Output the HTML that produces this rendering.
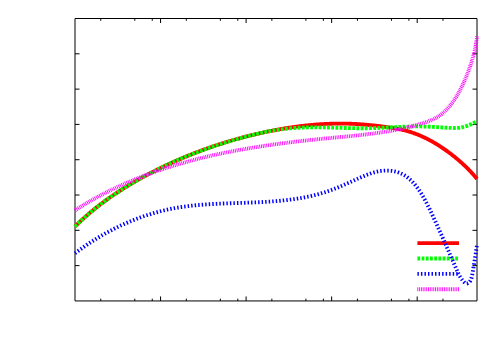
<!DOCTYPE html>
<html><head><meta charset="utf-8"><title>plot</title>
<style>html,body{margin:0;padding:0;background:#fff;font-family:"Liberation Sans",sans-serif;}svg{display:block}</style></head><body>
<svg width="500" height="350" viewBox="0 0 500 350">
<rect width="500" height="350" fill="#fff"/>
<g fill="none" stroke="#000" stroke-width="1">
<path d="M100.75,300.95V298.7M100.75,18.5V20.75M134.80,300.95V298.7M134.80,18.5V20.75M152.26,300.95V298.7M152.26,18.5V20.75M160.55,300.95V296.45M160.55,18.5V23.0M186.30,300.95V298.7M186.30,18.5V20.75M220.35,300.95V298.7M220.35,18.5V20.75M237.81,300.95V298.7M237.81,18.5V20.75M246.10,300.95V296.45M246.10,18.5V23.0M271.85,300.95V298.7M271.85,18.5V20.75M305.90,300.95V298.7M305.90,18.5V20.75M323.36,300.95V298.7M323.36,18.5V20.75M331.65,300.95V296.45M331.65,18.5V23.0M357.41,300.95V298.7M357.41,18.5V20.75M391.45,300.95V298.7M391.45,18.5V20.75M408.91,300.95V298.7M408.91,18.5V20.75M417.20,300.95V296.45M417.20,18.5V23.0M442.96,300.95V298.7M442.96,18.5V20.75M75.0,265.64H79.5M477.0,265.64H472.5M75.0,230.34H79.5M477.0,230.34H472.5M75.0,195.03H79.5M477.0,195.03H472.5M75.0,159.72H79.5M477.0,159.72H472.5M75.0,124.42H79.5M477.0,124.42H472.5M75.0,89.11H79.5M477.0,89.11H472.5M75.0,53.81H79.5M477.0,53.81H472.5"/>
<path d="M75.0,18.5V300.95H477.0V18.5Z"/>
</g>
<g fill="none" stroke-width="3.85" stroke-linejoin="round">
<path d="M417.4,243.1H459.0" stroke="#ff0000"/>
<path d="M75.00,226.50 L75.63,225.87 L76.27,225.25 L76.90,224.62 L77.54,224.00 L78.18,223.38 L78.83,222.77 L79.47,222.15 L80.12,221.54 L80.77,220.94 L81.42,220.33 L82.07,219.73 L82.73,219.13 L83.39,218.53 L84.05,217.93 L84.71,217.34 L85.38,216.75 L86.04,216.16 L86.71,215.57 L87.38,214.99 L88.05,214.41 L88.73,213.83 L89.40,213.25 L90.08,212.68 L90.76,212.11 L91.44,211.54 L92.13,210.97 L92.81,210.40 L93.50,209.84 L94.19,209.28 L94.88,208.72 L95.57,208.17 L96.27,207.61 L96.97,207.06 L97.67,206.51 L98.37,205.97 L99.07,205.42 L99.77,204.88 L100.48,204.34 L101.18,203.80 L101.89,203.27 L102.60,202.74 L103.32,202.21 L104.03,201.68 L104.75,201.15 L105.46,200.63 L106.18,200.10 L106.90,199.58 L107.63,199.07 L108.35,198.55 L109.08,198.04 L109.80,197.52 L110.53,197.02 L111.26,196.51 L111.99,196.00 L112.73,195.50 L113.46,195.00 L114.20,194.50 L114.94,194.00 L115.67,193.51 L116.41,193.02 L117.16,192.53 L117.90,192.04 L118.64,191.55 L119.39,191.07 L120.14,190.58 L120.89,190.10 L121.64,189.62 L122.39,189.15 L123.14,188.67 L123.90,188.20 L124.65,187.73 L125.41,187.26 L126.17,186.79 L126.93,186.33 L127.69,185.86 L128.45,185.40 L129.21,184.94 L129.97,184.49 L130.74,184.03 L131.51,183.58 L132.27,183.12 L133.04,182.67 L133.81,182.23 L134.58,181.78 L135.36,181.34 L136.13,180.89 L136.90,180.45 L137.68,180.01 L138.45,179.57 L139.23,179.14 L140.01,178.71 L140.79,178.27 L141.57,177.84 L142.35,177.41 L143.13,176.99 L143.92,176.56 L144.70,176.14 L145.49,175.72 L146.27,175.30 L147.06,174.88 L147.85,174.46 L148.64,174.05 L149.42,173.63 L150.22,173.22 L151.01,172.81 L151.80,172.40 L152.59,172.00 L153.38,171.59 L154.18,171.19 L154.97,170.79 L155.77,170.39 L156.57,169.99 L157.36,169.59 L158.16,169.20 L158.96,168.80 L159.76,168.41 L160.56,168.02 L161.36,167.63 L162.16,167.24 L162.97,166.86 L163.77,166.47 L164.57,166.09 L165.38,165.71 L166.18,165.33 L166.99,164.95 L167.80,164.57 L168.60,164.20 L169.41,163.83 L170.22,163.46 L171.03,163.09 L171.84,162.72 L172.65,162.35 L173.46,161.99 L174.27,161.62 L175.09,161.26 L175.90,160.90 L176.71,160.54 L177.53,160.18 L178.35,159.83 L179.16,159.47 L179.98,159.12 L180.80,158.77 L181.61,158.42 L182.43,158.08 L183.25,157.73 L184.07,157.39 L184.89,157.04 L185.72,156.70 L186.54,156.36 L187.36,156.03 L188.18,155.69 L189.01,155.36 L189.83,155.02 L190.66,154.69 L191.48,154.36 L192.31,154.04 L193.14,153.71 L193.97,153.38 L194.79,153.06 L195.62,152.74 L196.45,152.42 L197.28,152.10 L198.11,151.79 L198.95,151.47 L199.78,151.16 L200.61,150.85 L201.44,150.54 L202.28,150.23 L203.11,149.92 L203.95,149.62 L204.78,149.31 L205.62,149.01 L206.46,148.71 L207.29,148.41 L208.13,148.12 L208.97,147.82 L209.81,147.53 L210.65,147.24 L211.49,146.95 L212.33,146.66 L213.17,146.37 L214.01,146.09 L214.86,145.80 L215.70,145.52 L216.54,145.24 L217.39,144.96 L218.23,144.68 L219.08,144.41 L219.92,144.14 L220.77,143.86 L221.62,143.59 L222.46,143.32 L223.31,143.06 L224.16,142.79 L225.01,142.53 L225.86,142.27 L226.71,142.01 L227.56,141.75 L228.41,141.49 L229.26,141.24 L230.12,140.98 L230.97,140.73 L231.82,140.48 L232.67,140.23 L233.53,139.98 L234.38,139.74 L235.24,139.49 L236.09,139.25 L236.95,139.01 L237.81,138.77 L238.66,138.54 L239.52,138.30 L240.38,138.07 L241.24,137.83 L242.10,137.60 L242.96,137.38 L243.82,137.15 L244.68,136.92 L245.54,136.70 L246.40,136.48 L247.26,136.26 L248.12,136.04 L248.98,135.82 L249.85,135.61 L250.71,135.39 L251.57,135.18 L252.44,134.97 L253.30,134.76 L254.17,134.56 L255.04,134.35 L255.90,134.15 L256.77,133.95 L257.63,133.75 L258.50,133.55 L259.37,133.35 L260.24,133.16 L261.11,132.96 L261.98,132.77 L262.85,132.58 L263.72,132.39 L264.59,132.21 L265.46,132.02 L266.33,131.84 L267.20,131.66 L268.07,131.48 L268.94,131.30 L269.82,131.12 L270.69,130.95 L271.56,130.77 L272.44,130.60 L273.31,130.43 L274.18,130.27 L275.06,130.10 L275.93,129.94 L276.81,129.77 L277.69,129.61 L278.56,129.45 L279.44,129.30 L280.32,129.14 L281.19,128.99 L282.07,128.84 L282.95,128.69 L283.83,128.54 L284.70,128.39 L285.58,128.25 L286.46,128.11 L287.34,127.97 L288.22,127.83 L289.10,127.69 L289.98,127.56 L290.86,127.43 L291.74,127.30 L292.63,127.17 L293.51,127.04 L294.39,126.92 L295.27,126.80 L296.15,126.68 L297.04,126.56 L297.92,126.44 L298.80,126.33 L299.68,126.22 L300.57,126.11 L301.45,126.00 L302.34,125.90 L303.22,125.79 L304.10,125.69 L304.99,125.59 L305.87,125.50 L306.76,125.40 L307.64,125.31 L308.53,125.22 L309.41,125.13 L310.30,125.05 L311.19,124.96 L312.07,124.88 L312.96,124.81 L313.84,124.73 L314.73,124.66 L315.62,124.58 L316.51,124.51 L317.39,124.45 L318.28,124.38 L319.17,124.32 L320.05,124.26 L320.94,124.20 L321.83,124.15 L322.72,124.10 L323.61,124.05 L324.49,124.00 L325.38,123.95 L326.27,123.91 L327.16,123.87 L328.05,123.83 L328.94,123.80 L329.83,123.77 L330.71,123.74 L331.60,123.71 L332.49,123.68 L333.38,123.66 L334.27,123.64 L335.16,123.62 L336.05,123.61 L336.94,123.60 L337.83,123.59 L338.72,123.58 L339.61,123.58 L340.50,123.58 L341.39,123.58 L342.27,123.58 L343.16,123.59 L344.05,123.60 L344.94,123.61 L345.83,123.63 L346.72,123.64 L347.61,123.66 L348.50,123.69 L349.39,123.71 L350.28,123.74 L351.17,123.77 L352.06,123.81 L352.95,123.85 L353.84,123.89 L354.73,123.93 L355.62,123.97 L356.51,124.02 L357.40,124.07 L358.29,124.13 L359.18,124.18 L360.07,124.24 L360.95,124.30 L361.84,124.37 L362.73,124.43 L363.62,124.50 L364.51,124.57 L365.40,124.65 L366.28,124.72 L367.17,124.80 L368.06,124.88 L368.95,124.96 L369.83,125.05 L370.72,125.14 L371.61,125.23 L372.49,125.32 L373.38,125.41 L374.27,125.51 L375.15,125.61 L376.04,125.71 L376.92,125.81 L377.81,125.91 L378.69,126.02 L379.58,126.13 L380.46,126.24 L381.34,126.35 L382.23,126.47 L383.11,126.59 L383.99,126.70 L384.88,126.82 L385.76,126.95 L386.64,127.07 L387.52,127.20 L388.40,127.32 L389.28,127.45 L390.16,127.59 L391.04,127.72 L391.92,127.85 L392.80,127.99 L393.68,128.13 L394.55,128.28 L395.43,128.43 L396.30,128.58 L397.18,128.74 L398.05,128.90 L398.92,129.07 L399.79,129.25 L400.65,129.43 L401.52,129.63 L402.38,129.82 L403.25,130.03 L404.11,130.24 L404.97,130.46 L405.82,130.68 L406.68,130.91 L407.53,131.15 L408.38,131.40 L409.23,131.65 L410.08,131.91 L410.92,132.18 L411.77,132.45 L412.61,132.74 L413.45,133.02 L414.28,133.32 L415.12,133.62 L415.95,133.93 L416.78,134.24 L417.60,134.57 L418.43,134.90 L419.25,135.23 L420.07,135.57 L420.89,135.92 L421.70,136.28 L422.52,136.64 L423.33,137.01 L424.13,137.39 L424.94,137.77 L425.74,138.16 L426.54,138.55 L427.34,138.96 L428.13,139.36 L428.93,139.78 L429.71,140.19 L430.50,140.62 L431.29,141.05 L432.07,141.48 L432.85,141.92 L433.62,142.37 L434.39,142.82 L435.17,143.27 L435.93,143.73 L436.70,144.20 L437.46,144.67 L438.22,145.14 L438.98,145.62 L439.73,146.10 L440.48,146.59 L441.23,147.08 L441.97,147.58 L442.72,148.08 L443.46,148.58 L444.19,149.09 L444.93,149.60 L445.66,150.11 L446.39,150.63 L447.11,151.15 L447.83,151.68 L448.55,152.20 L449.27,152.73 L449.98,153.27 L450.69,153.80 L451.40,154.34 L452.10,154.89 L452.80,155.44 L453.50,155.99 L454.20,156.54 L454.89,157.10 L455.58,157.66 L456.26,158.22 L456.94,158.79 L457.62,159.36 L458.30,159.93 L458.97,160.51 L459.64,161.09 L460.31,161.67 L460.97,162.26 L461.63,162.85 L462.28,163.45 L462.94,164.05 L463.59,164.65 L464.23,165.26 L464.88,165.87 L465.52,166.48 L466.15,167.10 L466.78,167.72 L467.41,168.34 L468.04,168.97 L468.66,169.61 L469.28,170.24 L469.89,170.89 L470.51,171.53 L471.11,172.18 L471.72,172.83 L472.32,173.49 L472.92,174.15 L473.51,174.82 L474.10,175.49 L474.69,176.16 L475.27,176.84 L475.85,177.52 L476.43,178.21 L477.00,178.90" stroke="#ff0000"/>
<path d="M417.4,258.45H459.0" stroke="#00ff00" stroke-dasharray="2.8 1.4"/>
<path d="M75.00,226.50 L75.72,225.79 L76.44,225.08 L77.16,224.38 L77.88,223.68 L78.60,222.99 L79.31,222.30 L80.03,221.62 L80.75,220.95 L81.47,220.28 L82.19,219.62 L82.91,218.96 L83.63,218.31 L84.35,217.66 L85.07,217.02 L85.79,216.38 L86.51,215.75 L87.22,215.12 L87.94,214.50 L88.66,213.88 L89.38,213.27 L90.10,212.66 L90.82,212.06 L91.54,211.46 L92.26,210.86 L92.98,210.27 L93.70,209.68 L94.41,209.10 L95.13,208.52 L95.85,207.95 L96.57,207.38 L97.29,206.81 L98.01,206.25 L98.73,205.69 L99.45,205.13 L100.17,204.58 L100.89,204.03 L101.61,203.49 L102.32,202.95 L103.04,202.41 L103.76,201.88 L104.48,201.35 L105.20,200.82 L105.92,200.30 L106.64,199.78 L107.36,199.26 L108.08,198.75 L108.80,198.23 L109.52,197.73 L110.23,197.22 L110.95,196.72 L111.67,196.23 L112.39,195.73 L113.11,195.24 L113.83,194.75 L114.55,194.26 L115.27,193.78 L115.99,193.30 L116.71,192.82 L117.42,192.35 L118.14,191.88 L118.86,191.41 L119.58,190.94 L120.30,190.48 L121.02,190.02 L121.74,189.56 L122.46,189.10 L123.18,188.65 L123.90,188.20 L124.62,187.75 L125.33,187.30 L126.05,186.86 L126.77,186.42 L127.49,185.98 L128.21,185.55 L128.93,185.11 L129.65,184.68 L130.37,184.25 L131.09,183.82 L131.81,183.40 L132.53,182.98 L133.24,182.56 L133.96,182.14 L134.68,181.72 L135.40,181.31 L136.12,180.90 L136.84,180.49 L137.56,180.08 L138.28,179.67 L139.00,179.27 L139.72,178.87 L140.43,178.47 L141.15,178.07 L141.87,177.68 L142.59,177.28 L143.31,176.89 L144.03,176.50 L144.75,176.11 L145.47,175.73 L146.19,175.34 L146.91,174.96 L147.63,174.58 L148.34,174.20 L149.06,173.82 L149.78,173.45 L150.50,173.07 L151.22,172.70 L151.94,172.33 L152.66,171.96 L153.38,171.60 L154.10,171.23 L154.82,170.87 L155.54,170.51 L156.25,170.14 L156.97,169.79 L157.69,169.43 L158.41,169.07 L159.13,168.72 L159.85,168.37 L160.57,168.01 L161.29,167.67 L162.01,167.32 L162.73,166.97 L163.44,166.63 L164.16,166.28 L164.88,165.94 L165.60,165.60 L166.32,165.26 L167.04,164.93 L167.76,164.59 L168.48,164.26 L169.20,163.93 L169.92,163.59 L170.64,163.26 L171.35,162.94 L172.07,162.61 L172.79,162.29 L173.51,161.96 L174.23,161.64 L174.95,161.32 L175.67,161.00 L176.39,160.68 L177.11,160.37 L177.83,160.05 L178.55,159.74 L179.26,159.43 L179.98,159.12 L180.70,158.81 L181.42,158.51 L182.14,158.20 L182.86,157.90 L183.58,157.59 L184.30,157.29 L185.02,156.99 L185.74,156.69 L186.45,156.40 L187.17,156.10 L187.89,155.81 L188.61,155.52 L189.33,155.23 L190.05,154.94 L190.77,154.65 L191.49,154.36 L192.21,154.08 L192.93,153.79 L193.65,153.51 L194.36,153.23 L195.08,152.95 L195.80,152.67 L196.52,152.39 L197.24,152.12 L197.96,151.85 L198.68,151.57 L199.40,151.30 L200.12,151.03 L200.84,150.76 L201.56,150.50 L202.27,150.23 L202.99,149.97 L203.71,149.70 L204.43,149.44 L205.15,149.18 L205.87,148.92 L206.59,148.67 L207.31,148.41 L208.03,148.15 L208.75,147.90 L209.46,147.65 L210.18,147.40 L210.90,147.15 L211.62,146.90 L212.34,146.65 L213.06,146.41 L213.78,146.17 L214.50,145.92 L215.22,145.68 L215.94,145.44 L216.66,145.20 L217.37,144.97 L218.09,144.73 L218.81,144.50 L219.53,144.26 L220.25,144.03 L220.97,143.80 L221.69,143.57 L222.41,143.34 L223.13,143.12 L223.85,142.89 L224.57,142.67 L225.28,142.44 L226.00,142.22 L226.72,142.00 L227.44,141.78 L228.16,141.57 L228.88,141.35 L229.60,141.14 L230.32,140.92 L231.04,140.71 L231.76,140.50 L232.47,140.29 L233.19,140.08 L233.91,139.87 L234.63,139.67 L235.35,139.46 L236.07,139.26 L236.79,139.06 L237.51,138.86 L238.23,138.66 L238.95,138.46 L239.67,138.26 L240.38,138.07 L241.10,137.87 L241.82,137.68 L242.54,137.49 L243.26,137.30 L243.98,137.11 L244.70,136.92 L245.42,136.74 L246.14,136.55 L246.86,136.37 L247.58,136.18 L248.29,136.00 L249.01,135.82 L249.73,135.64 L250.45,135.46 L251.17,135.29 L251.89,135.11 L252.61,134.94 L253.33,134.76 L254.05,134.59 L254.77,134.42 L255.48,134.25 L256.20,134.08 L256.92,133.92 L257.64,133.75 L258.36,133.59 L259.08,133.43 L259.80,133.27 L260.52,133.11 L261.24,132.95 L261.96,132.79 L262.68,132.64 L263.39,132.49 L264.11,132.34 L264.83,132.19 L265.55,132.04 L266.27,131.90 L266.99,131.75 L267.71,131.61 L268.43,131.48 L269.15,131.34 L269.87,131.21 L270.59,131.07 L271.30,130.94 L272.02,130.82 L272.74,130.69 L273.46,130.57 L274.18,130.45 L274.90,130.33 L275.62,130.22 L276.34,130.10 L277.06,129.99 L277.78,129.89 L278.49,129.78 L279.21,129.68 L279.93,129.58 L280.65,129.48 L281.37,129.38 L282.09,129.29 L282.81,129.20 L283.53,129.11 L284.25,129.02 L284.97,128.93 L285.69,128.85 L286.40,128.77 L287.12,128.69 L287.84,128.61 L288.56,128.54 L289.28,128.47 L290.00,128.40 L291.34,128.28 L292.19,128.21 L293.04,128.14 L293.90,128.07 L294.75,128.01 L295.61,127.95 L296.46,127.89 L297.31,127.84 L298.17,127.79 L299.02,127.75 L299.88,127.70 L300.73,127.66 L301.59,127.63 L302.45,127.59 L303.30,127.56 L304.16,127.53 L305.01,127.50 L305.87,127.48 L306.73,127.46 L307.58,127.44 L308.44,127.42 L309.30,127.40 L310.15,127.39 L311.01,127.38 L311.87,127.37 L312.73,127.37 L313.58,127.36 L314.44,127.36 L315.30,127.36 L316.16,127.36 L317.02,127.36 L317.87,127.37 L318.73,127.37 L319.59,127.38 L320.45,127.39 L321.31,127.40 L322.17,127.41 L323.03,127.42 L323.89,127.44 L324.74,127.45 L325.60,127.47 L326.46,127.49 L327.32,127.50 L328.18,127.52 L329.04,127.54 L329.90,127.56 L330.76,127.58 L331.62,127.61 L332.48,127.63 L333.34,127.65 L334.20,127.67 L335.06,127.70 L335.92,127.72 L336.78,127.75 L337.64,127.77 L338.50,127.79 L339.36,127.82 L340.22,127.84 L341.08,127.87 L341.94,127.89 L342.80,127.92 L343.66,127.94 L344.52,127.96 L345.38,127.99 L346.24,128.01 L347.10,128.03 L347.96,128.05 L348.82,128.07 L349.68,128.09 L350.54,128.11 L351.40,128.13 L352.26,128.15 L353.12,128.16 L353.98,128.18 L354.84,128.19 L355.70,128.20 L356.56,128.22 L357.42,128.23 L358.28,128.24 L359.14,128.24 L360.00,128.25 L360.86,128.25 L361.72,128.26 L362.58,128.26 L363.44,128.26 L364.29,128.26 L365.15,128.25 L366.01,128.25 L366.87,128.24 L367.73,128.23 L368.59,128.21 L369.45,128.20 L370.31,128.18 L371.16,128.16 L372.02,128.14 L372.88,128.12 L373.74,128.09 L374.60,128.07 L375.46,128.04 L376.31,128.01 L377.17,127.97 L378.03,127.94 L378.89,127.91 L379.74,127.87 L380.60,127.83 L381.46,127.79 L382.32,127.75 L383.17,127.71 L384.03,127.67 L384.89,127.63 L385.75,127.58 L386.60,127.54 L387.46,127.50 L388.32,127.45 L389.17,127.41 L390.03,127.36 L390.89,127.32 L391.74,127.27 L392.60,127.23 L393.46,127.18 L394.31,127.14 L395.17,127.10 L396.03,127.05 L396.89,127.01 L397.74,126.97 L398.60,126.93 L399.46,126.89 L400.31,126.85 L401.17,126.81 L402.03,126.77 L402.88,126.74 L403.74,126.70 L404.60,126.67 L405.45,126.64 L406.31,126.61 L407.17,126.58 L408.03,126.55 L408.88,126.53 L409.74,126.51 L410.60,126.49 L411.46,126.47 L412.31,126.45 L413.17,126.44 L414.03,126.43 L414.89,126.42 L415.74,126.42 L416.60,126.42 L417.46,126.42 L418.32,126.42 L419.18,126.43 L420.03,126.44 L420.89,126.45 L421.75,126.47 L422.61,126.49 L423.47,126.51 L424.33,126.53 L425.19,126.56 L426.04,126.59 L426.90,126.62 L427.76,126.66 L428.62,126.70 L429.48,126.73 L430.34,126.78 L431.20,126.82 L432.06,126.86 L432.92,126.91 L433.78,126.95 L434.64,127.00 L435.50,127.05 L436.36,127.10 L437.22,127.15 L438.07,127.20 L438.93,127.25 L439.79,127.31 L440.65,127.36 L441.51,127.41 L442.37,127.46 L443.23,127.51 L444.09,127.57 L444.95,127.62 L445.81,127.67 L446.67,127.72 L447.53,127.77 L448.39,127.82 L449.25,127.86 L450.11,127.91 L450.97,127.95 L451.82,127.98 L452.68,128.00 L453.53,128.02 L454.39,128.02 L455.24,128.02 L456.09,127.99 L456.93,127.95 L457.78,127.90 L458.62,127.82 L459.45,127.73 L460.29,127.61 L461.12,127.47 L461.94,127.31 L462.76,127.12 L463.58,126.91 L464.40,126.69 L465.21,126.44 L466.02,126.17 L466.82,125.89 L467.62,125.59 L468.42,125.28 L469.21,124.95 L470.00,124.61 L470.79,124.25 L471.58,123.89 L472.36,123.51 L473.14,123.13 L473.92,122.74 L474.69,122.33 L475.46,121.93 L476.23,121.52 L477.00,121.10" stroke="#00ff00" stroke-dasharray="2.8 1.4"/>
<path d="M417.4,273.9H459.0" stroke="#0000ff" stroke-dasharray="1.45 2.08"/>
<path d="M75.00,253.30 L75.81,252.69 L76.63,252.07 L77.45,251.46 L78.27,250.86 L79.10,250.25 L79.93,249.65 L80.76,249.06 L81.59,248.46 L82.43,247.87 L83.27,247.28 L84.11,246.70 L84.96,246.11 L85.81,245.53 L86.66,244.96 L87.51,244.38 L88.36,243.81 L89.22,243.25 L90.08,242.68 L90.95,242.12 L91.81,241.57 L92.68,241.01 L93.55,240.46 L94.42,239.91 L95.30,239.37 L96.18,238.83 L97.06,238.29 L97.94,237.76 L98.83,237.23 L99.72,236.70 L100.61,236.18 L101.50,235.66 L102.39,235.14 L103.29,234.63 L104.19,234.12 L105.09,233.61 L105.99,233.11 L106.90,232.61 L107.81,232.12 L108.72,231.63 L109.63,231.14 L110.54,230.66 L111.46,230.18 L112.38,229.70 L113.30,229.23 L114.22,228.76 L115.15,228.30 L116.07,227.84 L117.00,227.38 L117.93,226.93 L118.86,226.48 L119.80,226.03 L120.73,225.59 L121.67,225.16 L122.61,224.72 L123.55,224.29 L124.50,223.87 L125.44,223.45 L126.39,223.03 L127.34,222.62 L128.29,222.21 L129.24,221.81 L130.20,221.41 L131.15,221.01 L132.11,220.62 L133.07,220.24 L134.03,219.85 L134.99,219.48 L135.95,219.10 L136.92,218.73 L137.88,218.37 L138.85,218.01 L139.82,217.65 L140.79,217.30 L141.77,216.95 L142.74,216.61 L143.71,216.27 L144.69,215.94 L145.67,215.61 L146.65,215.29 L147.63,214.97 L148.61,214.65 L149.59,214.34 L150.58,214.04 L151.56,213.73 L152.55,213.44 L153.54,213.15 L154.53,212.86 L155.52,212.58 L156.51,212.30 L157.50,212.03 L158.50,211.76 L159.49,211.50 L160.49,211.25 L161.48,210.99 L162.48,210.75 L163.48,210.50 L164.48,210.27 L165.48,210.04 L166.48,209.81 L167.49,209.59 L168.49,209.37 L169.49,209.16 L170.50,208.95 L171.51,208.75 L172.51,208.56 L173.52,208.36 L174.53,208.18 L175.54,208.00 L176.55,207.82 L177.56,207.65 L178.57,207.48 L179.58,207.32 L180.60,207.16 L181.61,207.01 L182.62,206.86 L183.64,206.71 L184.65,206.57 L185.67,206.43 L186.69,206.30 L187.71,206.17 L188.72,206.05 L189.74,205.93 L190.76,205.81 L191.78,205.69 L192.80,205.58 L193.82,205.47 L194.85,205.37 L195.87,205.27 L196.89,205.17 L197.91,205.08 L198.94,204.99 L199.96,204.90 L200.99,204.81 L202.01,204.73 L203.04,204.65 L204.06,204.57 L205.09,204.50 L206.12,204.43 L207.15,204.36 L208.17,204.29 L209.20,204.22 L210.23,204.16 L211.26,204.10 L212.29,204.04 L213.32,203.98 L214.35,203.93 L215.38,203.88 L216.41,203.82 L217.44,203.77 L218.47,203.73 L219.50,203.68 L220.53,203.63 L221.56,203.59 L222.60,203.55 L223.63,203.51 L224.66,203.47 L225.69,203.43 L226.73,203.39 L227.76,203.35 L228.79,203.31 L229.82,203.28 L230.86,203.24 L231.89,203.21 L232.92,203.17 L233.96,203.14 L234.99,203.10 L236.02,203.07 L237.06,203.04 L238.09,203.00 L239.13,202.97 L240.16,202.94 L241.19,202.90 L242.23,202.87 L243.26,202.84 L244.29,202.80 L245.33,202.77 L246.36,202.73 L247.39,202.69 L248.43,202.66 L249.46,202.62 L250.49,202.58 L251.53,202.54 L252.56,202.50 L253.59,202.46 L254.62,202.42 L255.66,202.37 L256.69,202.33 L257.72,202.28 L258.75,202.24 L259.78,202.19 L260.81,202.13 L261.84,202.08 L262.87,202.03 L263.91,201.97 L264.94,201.91 L265.96,201.85 L266.99,201.79 L268.02,201.72 L269.05,201.66 L270.08,201.59 L271.11,201.52 L272.14,201.44 L273.16,201.36 L274.19,201.28 L275.22,201.20 L276.24,201.12 L277.27,201.03 L278.29,200.94 L279.32,200.85 L280.34,200.75 L281.36,200.65 L282.39,200.54 L283.41,200.44 L284.43,200.33 L285.45,200.22 L286.47,200.10 L287.49,199.98 L288.51,199.85 L289.53,199.73 L290.54,199.59 L291.56,199.46 L292.58,199.32 L293.59,199.18 L294.61,199.03 L295.62,198.88 L296.63,198.72 L297.64,198.56 L298.65,198.39 L299.66,198.22 L300.67,198.05 L301.68,197.87 L302.69,197.69 L303.69,197.50 L304.70,197.31 L305.70,197.11 L306.70,196.91 L307.70,196.70 L308.70,196.49 L309.70,196.27 L310.70,196.04 L311.70,195.82 L312.69,195.58 L313.69,195.34 L314.68,195.10 L315.67,194.85 L316.66,194.59 L317.65,194.33 L318.64,194.06 L319.63,193.78 L320.61,193.50 L321.60,193.22 L322.58,192.92 L323.56,192.62 L324.54,192.32 L325.52,192.01 L326.49,191.69 L327.47,191.36 L328.44,191.03 L329.41,190.69 L330.38,190.35 L331.35,190.00 L332.32,189.64 L333.29,189.27 L334.25,188.90 L335.21,188.53 L336.18,188.15 L337.14,187.76 L338.10,187.37 L339.06,186.98 L340.01,186.58 L340.97,186.17 L341.93,185.77 L342.88,185.36 L343.83,184.95 L344.79,184.53 L345.74,184.11 L346.69,183.69 L347.64,183.27 L348.60,182.85 L349.55,182.42 L350.50,182.00 L351.45,181.57 L352.40,181.14 L353.35,180.72 L354.30,180.29 L355.25,179.87 L356.19,179.44 L357.14,179.02 L358.09,178.59 L359.04,178.17 L359.99,177.75 L360.94,177.34 L361.90,176.92 L362.85,176.51 L363.80,176.11 L364.76,175.71 L365.71,175.32 L366.67,174.94 L367.63,174.56 L368.59,174.20 L369.56,173.85 L370.53,173.51 L371.51,173.18 L372.48,172.87 L373.46,172.58 L374.45,172.30 L375.44,172.04 L376.44,171.80 L377.44,171.57 L378.45,171.37 L379.46,171.19 L380.48,171.03 L381.51,170.90 L382.54,170.79 L383.57,170.70 L384.61,170.64 L385.65,170.60 L386.68,170.59 L387.72,170.60 L388.76,170.64 L389.79,170.71 L390.82,170.80 L391.84,170.93 L392.86,171.07 L393.87,171.25 L394.87,171.46 L395.86,171.69 L396.84,171.95 L397.81,172.24 L398.76,172.57 L399.70,172.92 L400.63,173.30 L401.54,173.72 L402.43,174.16 L403.31,174.63 L404.18,175.13 L405.03,175.66 L405.86,176.21 L406.68,176.79 L407.49,177.39 L408.28,178.01 L409.06,178.66 L409.83,179.33 L410.58,180.02 L411.32,180.72 L412.05,181.45 L412.77,182.20 L413.47,182.96 L414.16,183.74 L414.84,184.54 L415.51,185.35 L416.16,186.17 L416.81,187.01 L417.44,187.86 L418.06,188.71 L418.67,189.58 L419.28,190.46 L419.87,191.35 L420.45,192.25 L421.02,193.15 L421.58,194.06 L422.14,194.97 L422.68,195.89 L423.21,196.81 L423.74,197.74 L424.26,198.66 L424.77,199.59 L425.27,200.52 L425.76,201.44 L426.25,202.37 L426.73,203.29 L427.20,204.21 L427.67,205.13 L428.13,206.04 L428.58,206.96 L429.03,207.87 L429.48,208.78 L429.92,209.70 L430.35,210.61 L430.79,211.52 L431.22,212.43 L431.64,213.34 L432.07,214.26 L432.49,215.17 L432.91,216.08 L433.33,217.00 L433.75,217.92 L434.17,218.84 L434.59,219.76 L435.01,220.68 L435.43,221.61 L435.85,222.53 L436.28,223.46 L436.70,224.39 L437.12,225.32 L437.54,226.26 L437.96,227.19 L438.38,228.13 L438.80,229.06 L439.22,230.00 L439.64,230.94 L440.06,231.88 L440.48,232.83 L440.90,233.77 L441.33,234.71 L441.75,235.66 L442.17,236.60 L442.59,237.55 L443.01,238.50 L443.43,239.45 L443.85,240.40 L444.26,241.34 L444.68,242.29 L445.10,243.24 L445.52,244.20 L445.94,245.15 L446.36,246.10 L446.78,247.05 L447.19,248.00 L447.61,248.95 L448.03,249.90 L448.44,250.85 L448.86,251.81 L449.27,252.76 L449.69,253.71 L450.10,254.66 L450.52,255.61 L450.93,256.56 L451.34,257.51 L451.76,258.46 L452.17,259.40 L452.58,260.35 L452.99,261.30 L453.40,262.25 L453.81,263.19 L454.22,264.13 L454.63,265.08 L455.04,266.02 L455.44,266.96 L455.85,267.90 L456.26,268.84 L456.66,269.78 L457.07,270.71 L457.49,271.64 L457.92,272.57 L458.36,273.49 L458.81,274.40 L459.29,275.30 L459.78,276.20 L460.31,277.09 L460.86,277.96 L461.45,278.82 L462.07,279.67 L462.73,280.50 L463.44,281.32 L464.18,282.11 L464.97,282.80 L465.79,283.30 L466.63,283.53 L467.49,283.41 L468.33,282.98 L469.13,282.31 L469.84,281.48 L470.44,280.57 L470.92,279.62 L471.31,278.64 L471.61,277.62 L471.86,276.59 L472.07,275.55 L472.25,274.50 L472.44,273.46 L472.62,272.43 L472.80,271.40 L472.98,270.37 L473.16,269.35 L473.33,268.33 L473.50,267.31 L473.68,266.30 L473.85,265.28 L474.02,264.27 L474.18,263.27 L474.35,262.26 L474.51,261.25 L474.68,260.25 L474.84,259.24 L475.00,258.24 L475.16,257.23 L475.32,256.22 L475.48,255.22 L475.63,254.21 L475.79,253.20 L475.94,252.18 L476.10,251.17 L476.25,250.15 L476.40,249.13 L476.55,248.10 L476.70,247.07 L476.85,246.04 L477.00,245.00" stroke="#0000ff" stroke-dasharray="1.45 2.08"/>
<path d="M417.4,289.2H459.0" stroke="#ff00ff" stroke-dasharray="0.9 0.87"/>
<path d="M75.00,210.30 L75.79,209.79 L76.59,209.29 L77.38,208.78 L78.18,208.28 L78.98,207.78 L79.78,207.28 L80.58,206.79 L81.38,206.30 L82.18,205.81 L82.99,205.32 L83.80,204.83 L84.60,204.35 L85.41,203.87 L86.22,203.39 L87.03,202.91 L87.85,202.44 L88.66,201.97 L89.48,201.50 L90.29,201.03 L91.11,200.56 L91.93,200.10 L92.75,199.64 L93.57,199.18 L94.39,198.72 L95.22,198.27 L96.04,197.82 L96.87,197.37 L97.70,196.92 L98.53,196.47 L99.36,196.03 L100.19,195.59 L101.02,195.15 L101.85,194.71 L102.69,194.27 L103.52,193.84 L104.36,193.41 L105.20,192.98 L106.04,192.55 L106.88,192.13 L107.72,191.71 L108.56,191.29 L109.40,190.87 L110.25,190.45 L111.09,190.04 L111.94,189.63 L112.79,189.22 L113.64,188.81 L114.49,188.40 L115.34,188.00 L116.19,187.60 L117.04,187.20 L117.90,186.80 L118.75,186.41 L119.61,186.01 L120.46,185.62 L121.32,185.23 L122.18,184.84 L123.04,184.46 L123.90,184.08 L124.76,183.69 L125.62,183.32 L126.48,182.94 L127.35,182.56 L128.21,182.19 L129.08,181.82 L129.95,181.45 L130.81,181.08 L131.68,180.72 L132.55,180.36 L133.42,179.99 L134.29,179.64 L135.16,179.28 L136.04,178.92 L136.91,178.57 L137.78,178.22 L138.66,177.87 L139.53,177.52 L140.41,177.18 L141.29,176.83 L142.17,176.49 L143.05,176.15 L143.92,175.81 L144.81,175.48 L145.69,175.14 L146.57,174.81 L147.45,174.48 L148.33,174.16 L149.22,173.83 L150.10,173.50 L150.99,173.18 L151.87,172.86 L152.76,172.54 L153.65,172.23 L154.53,171.91 L155.42,171.60 L156.31,171.29 L157.20,170.98 L158.09,170.67 L158.98,170.37 L159.88,170.06 L160.77,169.76 L161.66,169.46 L162.55,169.16 L163.45,168.87 L164.34,168.57 L165.24,168.28 L166.13,167.99 L167.03,167.70 L167.92,167.41 L168.82,167.13 L169.72,166.84 L170.62,166.56 L171.52,166.28 L172.42,166.00 L173.31,165.72 L174.21,165.45 L175.12,165.18 L176.02,164.91 L176.92,164.64 L177.82,164.37 L178.72,164.10 L179.62,163.84 L180.53,163.58 L181.43,163.32 L182.33,163.06 L183.24,162.80 L184.14,162.54 L185.05,162.29 L185.95,162.04 L186.86,161.79 L187.77,161.54 L188.67,161.29 L189.58,161.04 L190.49,160.80 L191.40,160.56 L192.31,160.32 L193.22,160.08 L194.12,159.84 L195.03,159.60 L195.94,159.37 L196.85,159.14 L197.77,158.91 L198.68,158.68 L199.59,158.45 L200.50,158.22 L201.41,158.00 L202.33,157.77 L203.24,157.55 L204.15,157.33 L205.07,157.11 L205.98,156.89 L206.90,156.68 L207.81,156.46 L208.73,156.25 L209.64,156.04 L210.56,155.83 L211.47,155.62 L212.39,155.41 L213.31,155.21 L214.22,155.00 L215.14,154.80 L216.06,154.60 L216.98,154.40 L217.90,154.20 L218.82,154.00 L219.74,153.81 L220.66,153.61 L221.58,153.42 L222.50,153.23 L223.42,153.04 L224.34,152.85 L225.26,152.66 L226.18,152.47 L227.10,152.29 L228.02,152.10 L228.95,151.92 L229.87,151.74 L230.79,151.56 L231.72,151.38 L232.64,151.20 L233.56,151.03 L234.49,150.85 L235.41,150.68 L236.34,150.51 L237.26,150.33 L238.19,150.16 L239.11,149.99 L240.04,149.83 L240.96,149.66 L241.89,149.50 L242.82,149.33 L243.74,149.17 L244.67,149.01 L245.60,148.85 L246.53,148.69 L247.45,148.53 L248.38,148.37 L249.31,148.21 L250.24,148.06 L251.17,147.90 L252.10,147.75 L253.02,147.60 L253.95,147.45 L254.88,147.30 L255.81,147.15 L256.74,147.00 L257.67,146.86 L258.60,146.71 L259.53,146.57 L260.47,146.42 L261.40,146.28 L262.33,146.14 L263.26,146.00 L264.19,145.86 L265.12,145.72 L266.05,145.58 L266.99,145.45 L267.92,145.31 L268.85,145.18 L269.78,145.04 L270.72,144.91 L271.65,144.78 L272.58,144.65 L273.52,144.52 L274.45,144.39 L275.38,144.26 L276.32,144.13 L277.25,144.00 L278.19,143.88 L279.12,143.75 L280.06,143.63 L280.99,143.51 L281.93,143.38 L282.86,143.26 L283.80,143.14 L284.73,143.02 L285.67,142.90 L286.60,142.79 L287.54,142.67 L288.47,142.55 L289.41,142.43 L290.34,142.32 L291.28,142.21 L292.22,142.09 L293.15,141.98 L294.09,141.87 L295.03,141.75 L295.96,141.64 L296.90,141.53 L297.84,141.42 L298.77,141.32 L299.71,141.21 L300.65,141.10 L301.58,140.99 L302.52,140.89 L303.46,140.78 L304.40,140.68 L305.33,140.57 L306.27,140.47 L307.21,140.37 L308.15,140.26 L309.08,140.16 L310.02,140.06 L310.96,139.96 L311.90,139.86 L312.84,139.76 L313.77,139.66 L314.71,139.56 L315.65,139.46 L316.59,139.37 L317.53,139.27 L318.47,139.17 L319.40,139.08 L320.34,138.98 L321.28,138.89 L322.22,138.79 L323.16,138.70 L324.10,138.61 L325.03,138.51 L325.97,138.42 L326.91,138.33 L327.85,138.24 L328.79,138.15 L329.73,138.06 L330.66,137.97 L331.60,137.88 L332.54,137.79 L333.48,137.70 L334.42,137.61 L335.36,137.52 L336.30,137.43 L337.23,137.34 L338.17,137.25 L339.11,137.16 L340.05,137.07 L340.99,136.99 L341.92,136.90 L342.86,136.81 L343.80,136.72 L344.74,136.63 L345.68,136.54 L346.61,136.45 L347.55,136.36 L348.49,136.27 L349.43,136.17 L350.36,136.08 L351.30,135.99 L352.24,135.89 L353.17,135.80 L354.11,135.71 L355.05,135.61 L355.98,135.51 L356.92,135.42 L357.85,135.32 L358.79,135.22 L359.72,135.12 L360.66,135.01 L361.60,134.91 L362.53,134.81 L363.46,134.70 L364.40,134.60 L365.33,134.49 L366.27,134.38 L367.20,134.27 L368.13,134.16 L369.07,134.04 L370.00,133.93 L370.93,133.81 L371.86,133.69 L372.80,133.57 L373.73,133.45 L374.66,133.33 L375.59,133.20 L376.52,133.08 L377.45,132.95 L378.38,132.82 L379.31,132.68 L380.24,132.55 L381.17,132.41 L382.10,132.27 L383.03,132.13 L383.95,131.99 L384.88,131.84 L385.81,131.69 L386.74,131.54 L387.66,131.39 L388.59,131.23 L389.51,131.07 L390.44,130.91 L391.36,130.75 L392.29,130.58 L393.21,130.41 L394.14,130.24 L395.06,130.07 L395.98,129.89 L396.90,129.71 L397.82,129.53 L398.75,129.34 L399.67,129.15 L400.59,128.96 L401.51,128.76 L402.43,128.57 L403.34,128.36 L404.26,128.16 L405.18,127.95 L406.10,127.74 L407.01,127.52 L407.93,127.31 L408.84,127.08 L409.76,126.86 L410.67,126.63 L411.59,126.39 L412.50,126.16 L413.41,125.92 L414.33,125.67 L415.24,125.43 L416.15,125.17 L417.06,124.92 L417.97,124.66 L418.88,124.39 L419.79,124.13 L420.69,123.85 L421.60,123.58 L422.51,123.29 L423.41,123.01 L424.31,122.71 L425.21,122.41 L426.10,122.10 L426.99,121.78 L427.88,121.46 L428.76,121.12 L429.63,120.77 L430.50,120.42 L431.37,120.05 L432.22,119.67 L433.07,119.27 L433.91,118.87 L434.74,118.45 L435.57,118.01 L436.38,117.56 L437.19,117.10 L437.98,116.61 L438.77,116.11 L439.54,115.60 L440.30,115.06 L441.05,114.51 L441.79,113.94 L442.51,113.35 L443.23,112.75 L443.93,112.13 L444.62,111.49 L445.30,110.84 L445.97,110.18 L446.63,109.50 L447.28,108.81 L447.91,108.11 L448.54,107.40 L449.16,106.68 L449.76,105.95 L450.36,105.21 L450.95,104.46 L451.53,103.70 L452.10,102.94 L452.65,102.17 L453.21,101.39 L453.75,100.61 L454.28,99.82 L454.80,99.03 L455.32,98.23 L455.83,97.43 L456.33,96.62 L456.82,95.81 L457.30,95.00 L457.78,94.18 L458.25,93.35 L458.71,92.53 L459.16,91.70 L459.61,90.87 L460.05,90.03 L460.49,89.20 L460.92,88.36 L461.34,87.52 L461.76,86.67 L462.17,85.83 L462.57,84.98 L462.97,84.13 L463.36,83.28 L463.75,82.42 L464.14,81.57 L464.52,80.71 L464.89,79.85 L465.26,78.99 L465.62,78.12 L465.98,77.26 L466.34,76.39 L466.69,75.52 L467.03,74.65 L467.38,73.77 L467.72,72.90 L468.05,72.02 L468.38,71.14 L468.71,70.26 L469.03,69.38 L469.35,68.49 L469.66,67.60 L469.97,66.71 L470.27,65.82 L470.57,64.93 L470.87,64.03 L471.16,63.14 L471.44,62.24 L471.72,61.34 L472.00,60.44 L472.27,59.54 L472.53,58.63 L472.79,57.73 L473.04,56.82 L473.29,55.91 L473.53,55.00 L473.76,54.09 L473.99,53.17 L474.22,52.26 L474.43,51.34 L474.64,50.42 L474.85,49.50 L475.05,48.58 L475.24,47.66 L475.42,46.74 L475.60,45.81 L475.77,44.89 L475.94,43.96 L476.10,43.03 L476.25,42.10 L476.39,41.17 L476.53,40.24 L476.66,39.30 L476.78,38.37 L476.89,37.44 L477.00,36.50" stroke="#ff00ff" stroke-dasharray="0.9 0.87"/>
</g>
</svg></body></html>
